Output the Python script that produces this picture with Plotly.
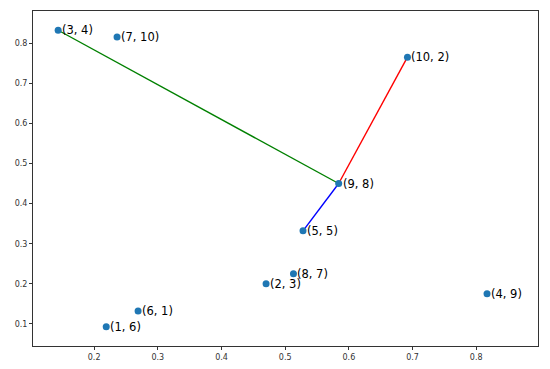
import plotly.graph_objects as go

# points: label pairs and their coordinates
labels = ["(1, 6)", "(2, 3)", "(3, 4)", "(4, 9)", "(5, 5)",
          "(6, 1)", "(7, 10)", "(8, 7)", "(9, 8)", "(10, 2)"]
xs = [0.219, 0.470, 0.1435, 0.817, 0.528, 0.269, 0.236, 0.513, 0.584, 0.692]
ys = [0.093, 0.200, 0.832, 0.175, 0.332, 0.132, 0.815, 0.225, 0.450, 0.765]

# segments joining points (by index into the lists above)
segments = [(2, 8, "green"), (8, 9, "red"), (8, 4, "blue")]

fig = go.Figure()

for a, b, color in segments:
    fig.add_trace(go.Scatter(x=[xs[a], xs[b]], y=[ys[a], ys[b]], mode="lines",
                             line=dict(color=color, width=1.4),
                             showlegend=False, hoverinfo="skip"))

fig.add_trace(go.Scatter(x=xs, y=ys, mode="markers",
                         marker=dict(color="#1f77b4", size=7),
                         showlegend=False))

# labels sit right next to each point
for x, y, t in zip(xs, ys, labels):
    fig.add_annotation(x=x, y=y, text=t, showarrow=False, xanchor="left", yanchor="middle",
                       xshift=2, font=dict(family="DejaVu Sans", size=11.5, color="black"))

axis_style = dict(showgrid=False, zeroline=False, showline=True, linecolor="#333",
                  linewidth=1, mirror=True, ticks="outside", ticklen=3, automargin=False,
                  tickcolor="#333", tickfont=dict(family="DejaVu Sans", size=8, color="#333"))

fig.update_xaxes(range=[0.104, 0.897], tickvals=[0.2, 0.3, 0.4, 0.5, 0.6, 0.7, 0.8],
                 ticktext=["0.2", "0.3", "0.4", "0.5", "0.6", "0.7", "0.8"], **axis_style)
fig.update_yaxes(range=[0.045, 0.88], tickvals=[0.1, 0.2, 0.3, 0.4, 0.5, 0.6, 0.7, 0.8],
                 ticktext=["0.1", "0.2", "0.3", "0.4", "0.5", "0.6", "0.7", "0.8"], **axis_style)

fig.update_layout(width=550, height=369,
                  margin=dict(l=33, r=12, t=11, b=23),
                  plot_bgcolor="white", paper_bgcolor="white")

fig.write_html("out.html", config={"displayModeBar": False},
               post_script="document.body.style.margin='0';")
